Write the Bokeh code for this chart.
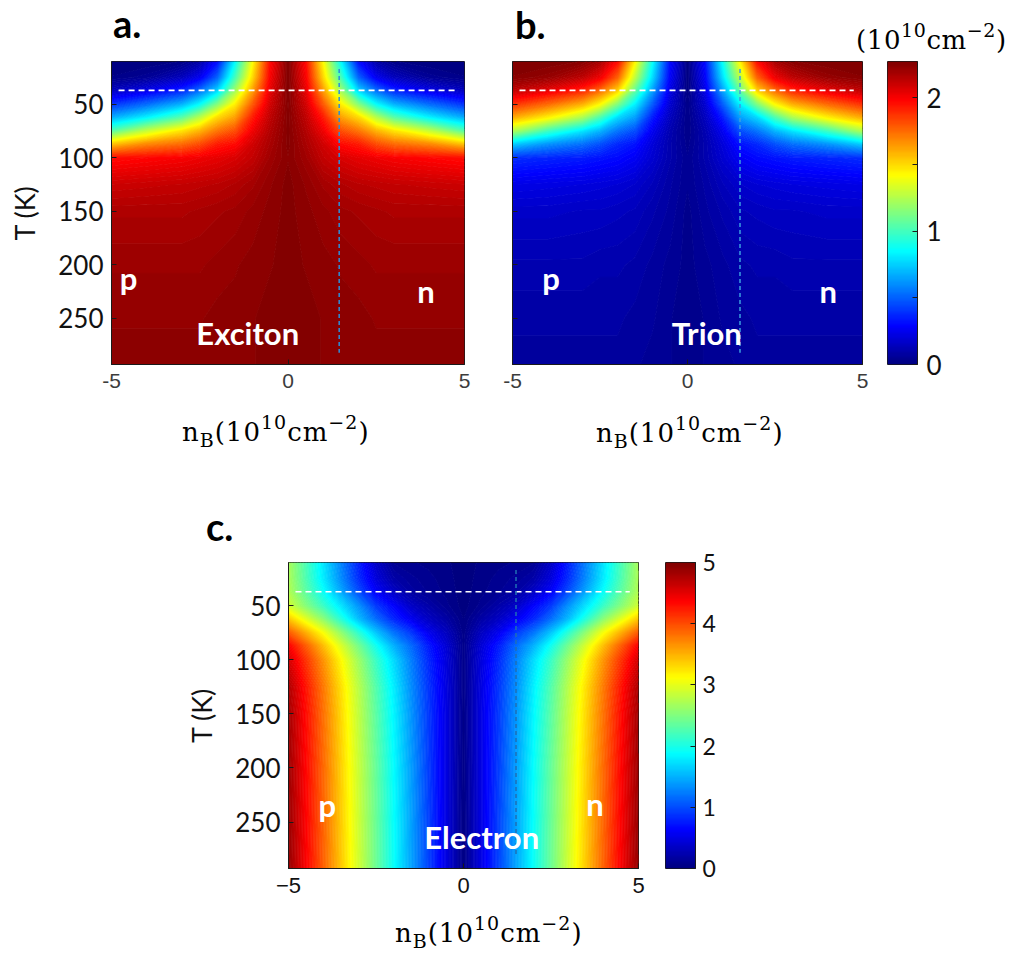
import numpy as np
from bokeh.plotting import figure
from bokeh.models import Range1d, FixedTicker, Label, LinearColorMapper, Spacer, Div
from bokeh.layouts import row, column
from bokeh.embed import file_html
from bokeh.resources import INLINE

# ---------------------------------------------------------------------------
# Densities (10^10 cm^-2) sampled on |n_B| columns and temperature rows.
# The three maps are mirror-symmetric about n_B = 0 (p side / n side).
# ---------------------------------------------------------------------------
NB_ABS = [0.0, 0.5, 1.0, 1.5, 2.0, 2.5, 3.0, 4.0, 5.0]
T_K = [10, 25, 37, 50, 62, 75, 87, 100, 125, 150, 200, 250, 293]

EXCITON = [
    [2.27, 1.97, 1.41, 0.84, 0.30, 0.09, 0.02, 0.00, 0.00],
    [2.27, 2.00, 1.50, 1.00, 0.50, 0.25, 0.14, 0.05, 0.02],
    [2.27, 2.04, 1.63, 1.20, 0.75, 0.52, 0.36, 0.23, 0.14],
    [2.26, 2.09, 1.79, 1.45, 1.14, 0.85, 0.68, 0.52, 0.39],
    [2.26, 2.13, 1.93, 1.63, 1.50, 1.25, 1.04, 0.82, 0.66],
    [2.26, 2.16, 2.02, 1.82, 1.73, 1.59, 1.48, 1.29, 1.04],
    [2.26, 2.18, 2.09, 1.97, 1.93, 1.82, 1.75, 1.68, 1.54],
    [2.25, 2.20, 2.12, 2.07, 2.04, 2.02, 2.00, 1.98, 1.96],
    [2.26, 2.23, 2.19, 2.16, 2.14, 2.13, 2.12, 2.11, 2.10],
    [2.26, 2.24, 2.22, 2.20, 2.19, 2.18, 2.17, 2.17, 2.17],
    [2.26, 2.25, 2.24, 2.23, 2.22, 2.21, 2.21, 2.21, 2.21],
    [2.27, 2.26, 2.25, 2.24, 2.24, 2.23, 2.23, 2.23, 2.23],
    [2.27, 2.26, 2.25, 2.25, 2.24, 2.24, 2.24, 2.24, 2.24],
]

TRION = [
    [0.00, 0.30, 0.86, 1.43, 1.97, 2.18, 2.25, 2.27, 2.27],
    [0.00, 0.27, 0.77, 1.27, 1.77, 2.02, 2.13, 2.22, 2.25],
    [0.00, 0.23, 0.64, 1.07, 1.52, 1.75, 1.91, 2.04, 2.13],
    [0.02, 0.18, 0.48, 0.82, 1.13, 1.42, 1.59, 1.75, 1.88],
    [0.02, 0.14, 0.34, 0.64, 0.77, 1.02, 1.23, 1.45, 1.61],
    [0.02, 0.11, 0.25, 0.45, 0.54, 0.68, 0.79, 0.98, 1.23],
    [0.03, 0.10, 0.20, 0.32, 0.37, 0.46, 0.53, 0.61, 0.74],
    [0.04, 0.10, 0.18, 0.26, 0.30, 0.32, 0.34, 0.36, 0.38],
    [0.04, 0.08, 0.13, 0.17, 0.19, 0.20, 0.21, 0.22, 0.23],
    [0.03, 0.07, 0.10, 0.13, 0.14, 0.15, 0.15, 0.16, 0.16],
    [0.03, 0.05, 0.07, 0.09, 0.10, 0.10, 0.11, 0.11, 0.11],
    [0.02, 0.04, 0.06, 0.07, 0.08, 0.08, 0.08, 0.08, 0.08],
    [0.02, 0.04, 0.05, 0.06, 0.07, 0.07, 0.07, 0.07, 0.07],
]

ELECTRON = [
    [0.00, 0.03, 0.05, 0.07, 0.10, 0.35, 0.78, 1.75, 2.70],
    [0.00, 0.04, 0.08, 0.12, 0.20, 0.45, 0.85, 1.78, 2.72],
    [0.00, 0.05, 0.10, 0.17, 0.35, 0.60, 1.00, 1.90, 2.75],
    [0.00, 0.08, 0.20, 0.35, 0.62, 0.90, 1.35, 2.15, 2.90],
    [0.02, 0.18, 0.33, 0.55, 0.80, 1.15, 1.55, 2.55, 3.40],
    [0.04, 0.32, 0.55, 0.90, 1.20, 1.60, 2.10, 3.10, 3.95],
    [0.05, 0.42, 0.75, 1.15, 1.50, 1.95, 2.45, 3.45, 4.40],
    [0.05, 0.45, 0.82, 1.25, 1.70, 2.15, 2.65, 3.65, 4.60],
    [0.05, 0.47, 0.88, 1.32, 1.80, 2.28, 2.78, 3.78, 4.78],
    [0.04, 0.48, 0.90, 1.36, 1.84, 2.32, 2.82, 3.82, 4.83],
    [0.03, 0.48, 0.92, 1.40, 1.88, 2.37, 2.86, 3.86, 4.86],
    [0.02, 0.48, 0.94, 1.42, 1.90, 2.39, 2.88, 3.88, 4.88],
    [0.02, 0.48, 0.95, 1.43, 1.91, 2.40, 2.90, 3.90, 4.90],
]

# axes, colour scales and guide lines
NB_MIN, NB_MAX = -5, 5
T_TOP, T_BOTTOM = 10, 293
X_TICKS = [-5, 0, 5]
T_TICKS = [50, 100, 150, 200, 250]
XT_MAX = 2.27          # exciton / trion colour scale top
XT_TICKS = [0, 1, 2]
XT_MINOR = [0.5, 1.5]
E_MAX = 5              # electron colour scale top
E_TICKS = [0, 1, 2, 3, 4, 5]
GUIDE_T = 37           # horizontal dashed temperature line (K)
GUIDE_NB = {"a": 1.45, "b": 1.5, "c": 1.5}
GUIDE_SPAN_NB = (-4.8, 4.75)
GUIDE_SPAN_T = (17, 282)

SANS = "Lato"
SERIF = "DejaVu Serif"

UNIT_HTML = ("(10<sup style='font-size:19px;vertical-align:12px;line-height:0'>10</sup>"
             "cm<sup style='font-size:19px;vertical-align:12px;line-height:0'>\u22122</sup>)")
NB_HTML = "n<sub style='font-size:19px;vertical-align:-6px;line-height:0'>B</sub>" + UNIT_HTML


def jet_hex(f):
    f = min(max(f, 0.0), 1.0)
    r = min(max(1.5 - abs(4 * f - 3), 0.0), 1.0)
    g = min(max(1.5 - abs(4 * f - 2), 0.0), 1.0)
    b = min(max(1.5 - abs(4 * f - 1), 0.0), 1.0)
    return "#%02x%02x%02x" % (round(r * 255), round(g * 255), round(b * 255))


JET256 = [jet_hex(i / 255) for i in range(256)]

NB_FULL = [-v for v in NB_ABS[:0:-1]] + NB_ABS


def mirrored(rows):
    return np.array([r[:0:-1] + r for r in rows], dtype=float)


def text_div(html, width, height, top, font, size, weight="normal", line=30, spacing="0px"):
    inner = (f"<div style=\"position:relative;top:{top}px;white-space:nowrap;"
             f"font-family:'{font}';font-size:{size}px;font-weight:{weight};"
             f"line-height:{line}px;letter-spacing:{spacing};color:#000\">{html}</div>")
    return Div(text=inner, width=width, height=height, margin=0)


def gap(width, height):
    return Spacer(width=width, height=height, margin=0)


def add_text(p, x, y, text, size=31):
    p.add_layout(Label(x=x, y=y, text=text, text_font=SANS, text_font_size=f"{size}px",
                       text_font_style="bold", text_color="white",
                       text_align="center", text_baseline="alphabetic"))


def heat_panel(width, height, left, right, top, bottom, rows, high, key,
               show_t_labels, tick_color, x_size, minus, guide_color):
    p = figure(width=width, height=height,
               x_range=Range1d(NB_MIN, NB_MAX), y_range=Range1d(T_BOTTOM, T_TOP),
               output_backend="svg", toolbar_location=None,
               min_border_left=left, min_border_right=right,
               min_border_top=top, min_border_bottom=bottom)
    z = mirrored(rows)
    levels = np.linspace(-0.02, high + 0.02, 121)
    mids = 0.5 * (levels[:-1] + levels[1:])
    # filled bands, each edge traced in its own level colour so no seams show
    p.contour(NB_FULL, T_K, z, levels,
              fill_color=[jet_hex(m / high) for m in mids],
              line_color=[jet_hex(l / high) for l in levels], line_width=1.1)

    # guide lines
    p.line(list(GUIDE_SPAN_NB), [GUIDE_T, GUIDE_T], line_color="white",
           line_width=1.6, line_dash="6 4")
    p.line([GUIDE_NB[key], GUIDE_NB[key]], list(GUIDE_SPAN_T), line_color=guide_color,
           line_width=1.5, line_dash="4 3")

    p.grid.visible = False
    p.outline_line_color = "#1a1a1a"
    p.outline_line_width = 1
    p.xaxis.ticker = FixedTicker(ticks=X_TICKS)
    p.yaxis.ticker = FixedTicker(ticks=T_TICKS)
    p.xaxis.major_label_overrides = {-5: minus + "5", 0: "0", 5: "5"}
    p.xaxis.major_label_text_font = "Liberation Sans"
    p.xaxis.major_label_text_font_size = f"{x_size}px"
    p.xaxis.major_label_text_color = tick_color
    p.xaxis.major_label_standoff = 9
    p.yaxis.major_label_text_font = SANS
    p.yaxis.major_label_text_font_size = "26px"
    p.yaxis.major_label_text_color = "#111111"
    p.yaxis.major_label_standoff = 8
    if show_t_labels:
        p.yaxis.axis_label = "T (K)"
        p.yaxis.axis_label_text_font = SANS
        p.yaxis.axis_label_text_font_size = "27px"
        p.yaxis.axis_label_text_font_style = "normal"
        p.yaxis.axis_label_text_color = "#111111"
        p.yaxis.axis_label_standoff = 14
    else:
        p.yaxis.major_label_overrides = {t: "" for t in T_TICKS}
    for ax in (p.xaxis, p.yaxis):
        ax.major_tick_in = 5
        ax.major_tick_out = 0
        ax.minor_tick_in = 0
        ax.minor_tick_out = 0
        ax.axis_line_color = "#1a1a1a"
        ax.major_tick_line_color = "#1a1a1a"
    return p


def colorbar_panel(width, height, left, top, bottom, high, ticks, minor, size, standoff):
    bar = 30
    p = figure(width=width, height=height, x_range=Range1d(0, 1), y_range=Range1d(0, high),
               x_axis_location=None, y_axis_location="right",
               output_backend="svg", toolbar_location=None,
               min_border_left=left, min_border_right=width - left - bar,
               min_border_top=top, min_border_bottom=bottom)
    ramp = np.linspace(0, high, 256).reshape(256, 1)
    p.image(image=[ramp], x=0, y=0, dw=1, dh=high,
            color_mapper=LinearColorMapper(palette=JET256, low=0, high=high))
    p.grid.visible = False
    p.outline_line_color = "#1a1a1a"
    ax = p.yaxis
    ax.ticker = FixedTicker(ticks=ticks, minor_ticks=minor)
    ax.major_label_text_font = SANS
    ax.major_label_text_font_size = f"{size}px"
    ax.major_label_text_color = "#111111"
    ax.major_label_standoff = standoff
    ax.major_tick_in = 5
    ax.major_tick_out = 0
    ax.minor_tick_in = 5 if minor else 0
    ax.minor_tick_out = 0
    ax.axis_line_color = "#1a1a1a"
    ax.major_tick_line_color = "#1a1a1a"
    ax.minor_tick_line_color = "#1a1a1a"
    return p


# ---- top row: exciton (a), trion (b) and their shared colour bar ----
H_TOP = 341
pa = heat_panel(485, H_TOP, 111, 21, 1, 35, EXCITON, XT_MAX, "a",
                True, "#3c3c3c", 21, "-", "#2a8fdc")
add_text(pa, -4.52, 212, "p")
add_text(pa, 3.91, 224, "n")
add_text(pa, -1.14, 264, "Exciton")

pb = heat_panel(395, H_TOP, 27, 18, 3, 33, TRION, XT_MAX, "b",
                False, "#3c3c3c", 21, "-", "#3a9fe0")
add_text(pb, -3.9, 212, "p")
add_text(pb, 4.02, 224, "n")
add_text(pb, 0.55, 264, "Trion")

cbb = colorbar_panel(145, H_TOP, 7, 3, 33, XT_MAX, XT_TICKS, XT_MINOR, 26, 9)

# ---- bottom: electron (c) ----
H_BOT = 357
pc = heat_panel(480, H_BOT, 108, 22, 15, 36, ELECTRON, E_MAX, "c",
                True, "#111111", 22, "\u2212", "#1f6fb5")
add_text(pc, -3.89, 234, "p")
add_text(pc, 3.76, 233, "n")
add_text(pc, 0.52, 264, "Electron")

cbc = colorbar_panel(100, H_BOT, 5, 15, 36, E_MAX, E_TICKS, [], 23, 7)

layout = column(
    row(gap(113, 58),
        text_div("a.", 402, 58, 0, SANS, 38, "bold", 46),
        text_div("b.", 341, 58, 1, SANS, 38, "bold", 46),
        text_div(UNIT_HTML, 169, 58, 25, SERIF, 26, spacing="0.6px")),
    row(pa, pb, cbb),
    row(gap(182, 60),
        text_div(NB_HTML, 414, 60, 18, SERIF, 26, spacing="1px"),
        text_div(NB_HTML, 429, 60, 19, SERIF, 26, spacing="1px")),
    row(gap(206, 88),
        text_div("c.", 819, 88, 47, SANS, 38, "bold", 40)),
    row(gap(180, H_BOT), pc, cbc),
    row(gap(395, 53),
        text_div(NB_HTML, 630, 53, 14, SERIF, 26, spacing="1px")),
)

open("out.html", "w").write(file_html(layout, INLINE, "Exciton, trion and electron densities"))
